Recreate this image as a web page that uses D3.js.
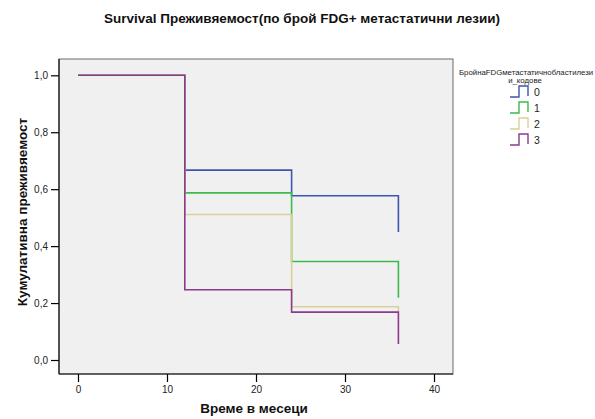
<!DOCTYPE html>
<html>
<head>
<meta charset="utf-8">
<script src="https://cdn.jsdelivr.net/npm/d3@7"></script>
<style>
  html, body { margin: 0; padding: 0; background: #fff; }
  svg { display: block; font-family: "Liberation Sans", Arial, sans-serif; }
</style>
</head>
<body>
<svg id="chart" width="595" height="419"></svg>
<script>
// Kaplan–Meier survival estimates per group (months 0, 12, 24, 36)
const times = [0, 12, 24, 36];
const groups = ["0", "1", "2", "3"];
const survival0 = [1.0, 0.667, 0.577, 0.450];
const survival1 = [1.0, 0.587, 0.346, 0.219];
const survival2 = [1.0, 0.511, 0.187, 0.170];
const survival3 = [1.0, 0.247, 0.168, 0.056];
const seriesValues = [survival0, survival1, survival2, survival3];
const colors = ["#3d55b0", "#3cba4c", "#d8d197", "#8c3a8e"];

const xTicks = [0, 10, 20, 30, 40];
const yTicks = [0, 0.2, 0.4, 0.6, 0.8, 1.0];

const titleText = "Survival Преживяемост(по брой FDG+ метастатични лезии)";
const xLabel = "Време в месеци";
const yLabel = "Кумулативна преживяемост";
const legendTitle1 = "БройнаFDGметастатичнобластилези";
const legendTitle2 = "и_кодове";

const svg = d3.select("#chart");
const frame = { left: 59, right: 453, top: 59, bottom: 374 };

const x = d3.scaleLinear().domain([0, 40]).range([78, 434]);
const y = d3.scaleLinear().domain([0, 1]).range([360, 75.3]);

// plot background
svg.append("rect")
  .attr("x", frame.left).attr("y", frame.top)
  .attr("width", frame.right - frame.left).attr("height", frame.bottom - frame.top)
  .attr("fill", "#f0f0f0").attr("stroke", "#6a6a6a").attr("stroke-width", 1);

// axes
const fmt = d => d3.format(".1f")(d).replace(".", ",");
const yAxis = svg.append("g")
  .attr("transform", `translate(${frame.left},0)`)
  .call(d3.axisLeft(y).tickValues(yTicks).tickFormat(fmt).tickSize(8).tickPadding(3));
const xAxis = svg.append("g")
  .attr("transform", `translate(0,${frame.bottom})`)
  .call(d3.axisBottom(x).tickValues(xTicks).tickSize(8).tickPadding(4));
[yAxis, xAxis].forEach(g => {
  g.select(".domain").remove();
  g.selectAll("line").attr("stroke", "#000").attr("stroke-width", 1.2);
  g.selectAll("text").attr("font-size", "10px").attr("fill", "#222")
    .attr("font-family", "\"Liberation Sans\", Arial, sans-serif");
});
svg.append("line").attr("x1", frame.left).attr("x2", frame.left)
  .attr("y1", frame.top).attr("y2", frame.bottom).attr("stroke", "#111").attr("stroke-width", 1.2);
svg.append("line").attr("x1", frame.left).attr("x2", frame.right)
  .attr("y1", frame.bottom).attr("y2", frame.bottom).attr("stroke", "#111").attr("stroke-width", 1.2);

// survival step curves
const line = d3.line()
  .x(d => x(d[0])).y(d => y(d[1]))
  .curve(d3.curveStepAfter);
seriesValues.forEach((vals, i) => {
  svg.append("path")
    .datum(times.map((t, k) => [t, vals[k]]))
    .attr("d", line)
    .attr("fill", "none")
    .attr("stroke", colors[i])
    .attr("stroke-width", 1.6);
});

// titles
svg.append("text").attr("x", 302).attr("y", 23).attr("text-anchor", "middle")
  .attr("font-size", "13.5px").attr("font-weight", "bold").attr("fill", "#111").text(titleText);
svg.append("text").attr("x", 254).attr("y", 413).attr("text-anchor", "middle")
  .attr("font-size", "13.5px").attr("font-weight", "bold").attr("fill", "#111").text(xLabel);
svg.append("text").attr("transform", "translate(27,212) rotate(-90)").attr("text-anchor", "middle")
  .attr("font-size", "13.5px").attr("font-weight", "bold").attr("fill", "#111").text(yLabel);

// legend
svg.append("text").attr("x", 459).attr("y", 75).attr("font-size", "7.8px").attr("fill", "#222").text(legendTitle1);
svg.append("text").attr("x", 525).attr("y", 83).attr("text-anchor", "middle")
  .attr("font-size", "7.8px").attr("fill", "#222").text(legendTitle2);
const legend = svg.append("g");
groups.forEach((g, i) => {
  const cy = 92 + i * 16;
  const path = d3.path();
  path.moveTo(510, cy + 5);
  path.lineTo(519, cy + 5);
  path.lineTo(519, cy - 6);
  path.lineTo(528, cy - 6);
  path.lineTo(528, cy + 4);
  legend.append("path").attr("d", path.toString()).attr("fill", "none")
    .attr("stroke", colors[i]).attr("stroke-width", 1.4);
  legend.append("text").attr("x", 534).attr("y", cy + 4).attr("font-size", "10.5px")
    .attr("fill", "#222").text(g);
});
</script>
</body>
</html>
